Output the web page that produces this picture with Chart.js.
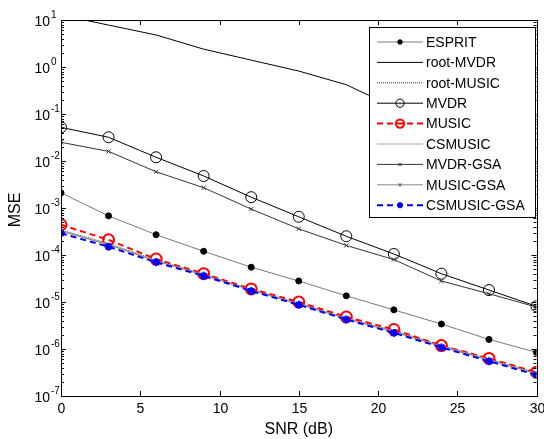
<!DOCTYPE html>
<html>
<head>
<meta charset="UTF-8">
<title>MSE vs SNR</title>
<script src="https://cdn.jsdelivr.net/npm/chart.js"></script>
<style>
  html, body { margin: 0; padding: 0; background: #fff; }
  #box { width: 544px; height: 439px; }
</style>
</head>
<body>
<div id="box"><canvas id="grafico"></canvas></div>
<script>
// dados
const snr = [0, 3, 6, 9, 12, 15, 18, 21, 24, 27, 30];
const xTicks = [0, 5, 10, 15, 20, 25, 30];
const yExps = [1, 0, -1, -2, -3, -4, -5, -6, -7];

const esprit     = [2.1e-3, 6.8e-4, 2.7e-4, 1.2e-4, 5.5e-5, 2.8e-5, 1.35e-5, 6.8e-6, 3.4e-6, 1.6e-6, 8.5e-7];
const rootMvdr   = [12.7, 7.8, 4.8, 2.4, 1.4, 0.82, 0.42, 0.14, 0.07, 0.035, 0.018];
const rootMusic  = [3.4e-4, 1.75e-4, 7.8e-5, 3.9e-5, 1.85e-5, 9.4e-6, 4.6e-6, 2.45e-6, 1.2e-6, 6.1e-7, 3.1e-7];
const mvdr       = [0.052, 0.032, 0.012, 4.8e-3, 1.7e-3, 6.5e-4, 2.5e-4, 1.05e-4, 4.0e-5, 1.8e-5, 8.1e-6];
const music      = [4.4e-4, 2.1e-4, 8.2e-5, 4.0e-5, 1.9e-5, 1.0e-5, 4.8e-6, 2.6e-6, 1.18e-6, 6.3e-7, 3.2e-7];
const csmusic    = [3.3e-4, 1.7e-4, 7.6e-5, 3.8e-5, 1.8e-5, 9.2e-6, 4.5e-6, 2.35e-6, 1.15e-6, 6.0e-7, 3.0e-7];
const mvdrGsa    = [0.025, 0.016, 5.9e-3, 2.7e-3, 9.5e-4, 3.6e-4, 1.6e-4, 8.0e-5, 2.8e-5, 1.5e-5, 7.8e-6];
const musicGsa   = [3.2e-4, 1.65e-4, 7.4e-5, 3.75e-5, 1.78e-5, 9.0e-6, 4.4e-6, 2.3e-6, 1.12e-6, 5.8e-7, 2.95e-7];
const csmusicGsa = [2.9e-4, 1.5e-4, 7.0e-5, 3.6e-5, 1.72e-5, 8.7e-6, 4.25e-6, 2.2e-6, 1.08e-6, 5.5e-7, 2.8e-7];

const nomes = ['ESPRIT', 'root-MVDR', 'root-MUSIC', 'MVDR', 'MUSIC', 'CSMUSIC', 'MVDR-GSA', 'MUSIC-GSA', 'CSMUSIC-GSA'];
const series = [esprit, rootMvdr, rootMusic, mvdr, music, csmusic, mvdrGsa, musicGsa, csmusicGsa];

// estilos de cada curva
const estilos = [
  { cor: '#777', lw: 1, dash: [], ponto: 'circle', r: 3, pf: '#000', pb: '#000', plw: 1 },
  { cor: '#000', lw: 1, dash: [], ponto: false, r: 0 },
  { cor: '#222', lw: 1, dash: [1, 1], ponto: false, r: 0 },
  { cor: '#000', lw: 1, dash: [], ponto: 'circle', r: 5.5, pf: 'rgba(0,0,0,0)', pb: '#000', plw: 1 },
  { cor: '#f00', lw: 2, dash: [6, 4], ponto: 'circle', r: 5.5, pf: 'rgba(0,0,0,0)', pb: '#f00', plw: 2 },
  { cor: '#aaa', lw: 1, dash: [], ponto: false, r: 0 },
  { cor: '#333', lw: 1, dash: [], ponto: 'crossRot', r: 3, pf: '#333', pb: '#333', plw: 1 },
  { cor: '#888', lw: 1, dash: [], ponto: 'crossRot', r: 3, pf: '#555', pb: '#555', plw: 1 },
  { cor: '#00f', lw: 2, dash: [6, 4], ponto: 'star', r: 4, pf: '#00f', pb: '#00f', plw: 2 }
];

const datasets = series.map(function (s, i) {
  const e = estilos[i];
  return {
    label: nomes[i],
    data: snr.map(function (x, j) { return { x: x, y: s[j] }; }),
    borderColor: e.cor,
    borderWidth: e.lw,
    borderDash: e.dash,
    pointStyle: e.ponto,
    pointRadius: e.r,
    pointBackgroundColor: e.pf,
    pointBorderColor: e.pb,
    pointBorderWidth: e.plw,
    fill: false,
    tension: 0,
    order: series.length - 1 - i
  };
});

const fonte = '"Liberation Sans", Arial, sans-serif';

// eixos, ticks, rotulos e legenda desenhados a mao
const molduraPlugin = {
  id: 'moldura',
  afterDatasetsDraw: function (chart) {
    const ctx = chart.ctx;
    const a = chart.chartArea;
    const xs = chart.scales.x, ys = chart.scales.y;
    ctx.save();
    ctx.strokeStyle = '#000';
    ctx.lineWidth = 1;
    ctx.setLineDash([]);
    ctx.strokeRect(Math.round(a.left) + 0.5, Math.round(a.top) + 0.5, Math.round(a.right - a.left), Math.round(a.bottom - a.top));

    // ticks x
    ctx.fillStyle = '#000';
    ctx.font = '14px ' + fonte;
    ctx.textAlign = 'center';
    ctx.textBaseline = 'top';
    xTicks.forEach(function (v) {
      const px = Math.round(xs.getPixelForValue(v)) + 0.5;
      ctx.beginPath();
      ctx.moveTo(px, a.bottom); ctx.lineTo(px, a.bottom - 5);
      ctx.moveTo(px, a.top); ctx.lineTo(px, a.top + 5);
      ctx.stroke();
      ctx.fillText(String(v), px, a.bottom + 6);
    });

    // ticks y (log)
    yExps.forEach(function (k) {
      const py = Math.round(ys.getPixelForValue(Math.pow(10, k))) + 0.5;
      ctx.beginPath();
      ctx.moveTo(a.left, py); ctx.lineTo(a.left + 5, py);
      ctx.moveTo(a.right, py); ctx.lineTo(a.right - 5, py);
      ctx.stroke();
      if (k > -7) {
        for (let m = 2; m <= 9; m++) {
          const pm = Math.round(ys.getPixelForValue(m * Math.pow(10, k - 1))) + 0.5;
          ctx.beginPath();
          ctx.moveTo(a.left, pm); ctx.lineTo(a.left + 3, pm);
          ctx.moveTo(a.right, pm); ctx.lineTo(a.right - 3, pm);
          ctx.stroke();
        }
      }
      ctx.font = '14px ' + fonte;
      ctx.textAlign = 'right';
      ctx.textBaseline = 'middle';
      ctx.fillText('10', a.left - 11, py + 2);
      ctx.font = '10px ' + fonte;
      ctx.textAlign = 'left';
      ctx.fillText(String(k), a.left - 10, py - 5);
    });

    // titulos dos eixos
    ctx.font = '16px ' + fonte;
    ctx.textAlign = 'center';
    ctx.textBaseline = 'middle';
    ctx.fillText('SNR (dB)', (a.left + a.right) / 2, 430);
    ctx.save();
    ctx.translate(16, 210);
    ctx.rotate(-Math.PI / 2);
    ctx.fillText('MSE', 0, 0);
    ctx.restore();

    // legenda
    const lx = 369, ly = 27, lw = 166, lh = 190;
    ctx.fillStyle = '#fff';
    ctx.fillRect(lx, ly, lw, lh);
    ctx.strokeStyle = '#000';
    ctx.lineWidth = 1;
    ctx.strokeRect(lx + 0.5, ly + 0.5, lw, lh);
    chart.data.datasets.forEach(function (d, i) {
      const y = 42 + i * 20.4;
      ctx.beginPath();
      ctx.strokeStyle = d.borderColor;
      ctx.lineWidth = d.borderWidth;
      ctx.setLineDash(d.borderDash);
      ctx.moveTo(377, y); ctx.lineTo(423, y);
      ctx.stroke();
      ctx.setLineDash([]);
      if (d.pointStyle) {
        ctx.fillStyle = d.pointBackgroundColor;
        ctx.strokeStyle = d.pointBorderColor;
        ctx.lineWidth = d.pointBorderWidth;
        Chart.helpers.drawPoint(ctx, {
          pointStyle: d.pointStyle,
          radius: d.pointRadius * 0.75,
          borderWidth: d.pointBorderWidth
        }, 400, y);
      }
      ctx.fillStyle = '#000';
      ctx.font = '14px ' + fonte;
      ctx.textAlign = 'left';
      ctx.textBaseline = 'middle';
      ctx.fillText(d.label, 426, y + 1);
    });
    ctx.restore();
  }
};

new Chart(document.getElementById('grafico'), {
  type: 'line',
  data: { datasets: datasets },
  options: {
    responsive: true,
    maintainAspectRatio: false,
    animation: false,
    layout: { padding: { left: 61, right: 5, top: 20, bottom: 43 } },
    plugins: { legend: { display: false }, tooltip: { enabled: false } },
    scales: {
      x: { type: 'linear', min: 0, max: 30, display: false },
      y: { type: 'logarithmic', min: 1e-7, max: 10, display: false }
    }
  },
  plugins: [molduraPlugin]
});
</script>
</body>
</html>
